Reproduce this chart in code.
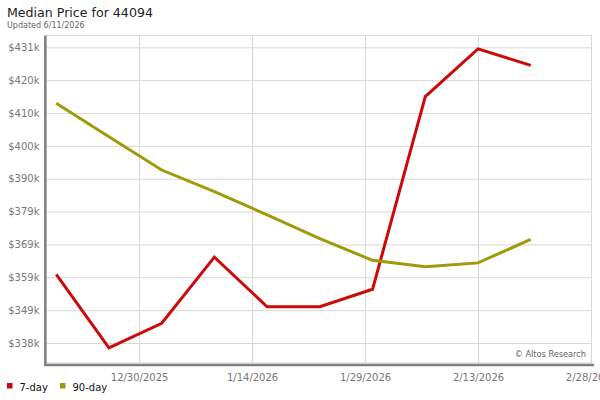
<!DOCTYPE html>
<html>
<head>
<meta charset="utf-8">
<script src="https://cdn.jsdelivr.net/npm/d3@7"></script>
<style>
  body { margin: 0; background: #fff; }
  text { font-family: "DejaVu Sans", Verdana, sans-serif; }
</style>
</head>
<body>
<div id="chart"></div>
<script>
// Weekly dates and median prices
const dates = [
  "2025-12-19", "2025-12-26", "2026-01-02", "2026-01-09", "2026-01-16",
  "2026-01-23", "2026-01-30", "2026-02-06", "2026-02-13", "2026-02-20"
];
const sevenDay = [359600, 336500, 344200, 365000, 349400, 349400, 354900, 415500, 430500, 425300];
const ninetyDay = [413400, 402900, 392400, 385600, 378300, 370800, 364000, 362000, 363200, 370600];

// Tick values and labels
const yTicks = [338000, 348330, 358670, 369000, 379330, 389670, 400000, 410330, 420670, 431000];
const yLabels = ["$338k", "$349k", "$359k", "$369k", "$379k", "$390k", "$400k", "$410k", "$420k", "$431k"];
const xTicks = ["2025-12-30", "2026-01-14", "2026-01-29", "2026-02-13", "2026-02-28"];

const series = [
  { name: "7-day", color: "#cc0a0a", values: sevenDay },
  { name: "90-day", color: "#a09a0a", values: ninetyDay }
];

const width = 600;
const height = 400;
const plot = { left: 46.5, right: 591.5, top: 35.5, bottom: 363 };

const parse = d3.timeParse("%Y-%m-%d");

const svg = d3
  .select("#chart")
  .append("svg")
  .attr("width", width)
  .attr("height", height);

const x = d3
  .scaleTime()
  .domain([new Date(2025, 11, 17, 17), new Date(2026, 1, 28)])
  .range([plot.left, 591]);

const y = d3
  .scaleLinear()
  .domain([338000, 431000])
  .range([343, 47.3]);

// Title
svg
  .append("text")
  .attr("x", 7)
  .attr("y", 17)
  .attr("font-size", 12.6)
  .attr("fill", "#222")
  .text("Median Price for 44094");

svg
  .append("text")
  .attr("x", 7)
  .attr("y", 28)
  .attr("font-size", 8)
  .attr("fill", "#666")
  .text("Updated 6/11/2026");

// Plot background with light border
svg
  .append("rect")
  .attr("x", plot.left)
  .attr("y", plot.top)
  .attr("width", plot.right - plot.left)
  .attr("height", plot.bottom - plot.top)
  .attr("fill", "#fff")
  .attr("stroke", "#d8d8d8");

// Horizontal gridlines + labels
const yAxis = d3
  .axisLeft(y)
  .tickValues(yTicks)
  .tickSize(-(plot.right - plot.left))
  .tickPadding(7)
  .tickFormat((d, i) => yLabels[i]);

svg
  .append("g")
  .attr("transform", `translate(${plot.left},0)`)
  .call(yAxis)
  .call((g) => g.select(".domain").remove())
  .call((g) => g.selectAll(".tick line").attr("stroke", "#d8d8d8"))
  .call((g) =>
    g.selectAll(".tick text")
      .attr("font-family", "DejaVu Sans")
      .attr("font-size", 10)
      .attr("fill", "#777")
  );

// Vertical gridlines + date labels
const xAxis = d3
  .axisBottom(x)
  .tickValues(xTicks.map(parse))
  .tickSize(-(plot.bottom - plot.top))
  .tickPadding(11)
  .tickFormat(d3.timeFormat("%-m/%-d/%Y"));

svg
  .append("g")
  .attr("transform", `translate(0,${plot.bottom})`)
  .call(xAxis)
  .call((g) => g.select(".domain").remove())
  .call((g) => g.selectAll(".tick line").attr("stroke", "#d8d8d8"))
  .call((g) =>
    g.selectAll(".tick text")
      .attr("font-family", "DejaVu Sans")
      .attr("font-size", 10)
      .attr("fill", "#777")
  );

// Dark axis lines on left and bottom
svg
  .append("line")
  .attr("x1", 45.3)
  .attr("x2", 45.3)
  .attr("y1", plot.top)
  .attr("y2", 366)
  .attr("stroke", "#808080")
  .attr("stroke-width", 2.4);

svg
  .append("line")
  .attr("x1", 44.1)
  .attr("x2", 594)
  .attr("y1", 365)
  .attr("y2", 365)
  .attr("stroke", "#808080")
  .attr("stroke-width", 2.4);

// Watermark
svg
  .append("text")
  .attr("x", 586)
  .attr("y", 357)
  .attr("text-anchor", "end")
  .attr("font-size", 8.2)
  .attr("fill", "#666")
  .text("\u00A9 Altos Research");

// Lines
const line = d3
  .line()
  .x((d, i) => x(parse(dates[i])))
  .y((d) => y(d));

svg
  .selectAll("path.series")
  .data(series)
  .enter()
  .append("path")
  .attr("class", "series")
  .attr("d", (d) => line(d.values))
  .attr("fill", "none")
  .attr("stroke", (d) => d.color)
  .attr("stroke-width", 3)
  .attr("stroke-linejoin", "miter");

// Legend
const legend = svg
  .selectAll("g.legend")
  .data(series)
  .enter()
  .append("g")
  .attr("class", "legend")
  .attr("transform", (d, i) => `translate(${[7, 60][i]},383)`);

legend
  .append("rect")
  .attr("width", 5.5)
  .attr("height", 5.5)
  .attr("fill", (d) => d.color);

legend
  .append("text")
  .attr("x", 12.5)
  .attr("y", 7.5)
  .attr("font-size", 10)
  .attr("fill", "#111")
  .text((d) => d.name);
</script>
</body>
</html>
